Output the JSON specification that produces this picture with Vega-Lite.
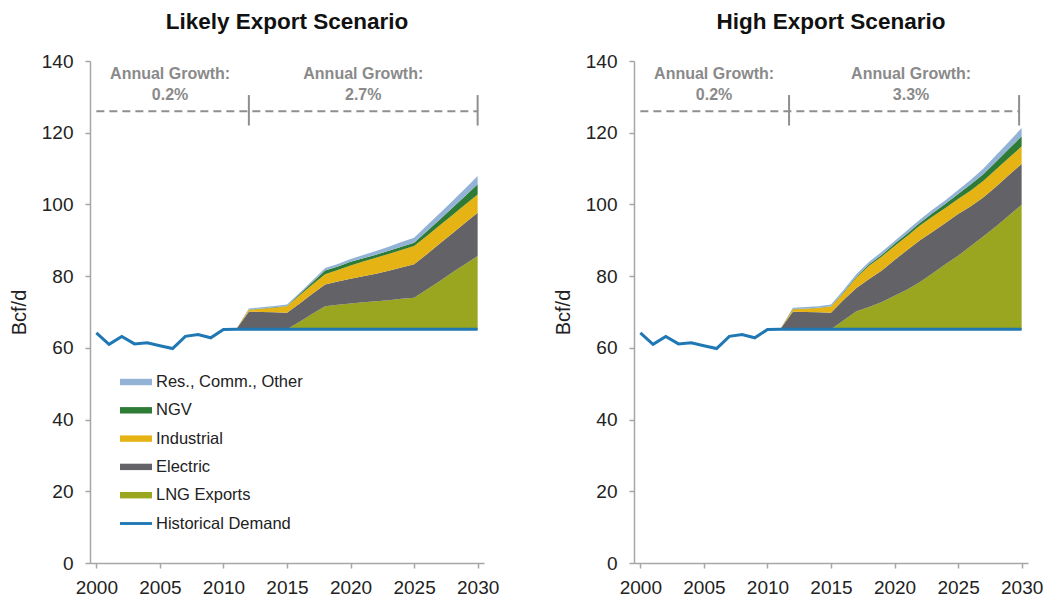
{
  "$schema": "https://vega.github.io/schema/vega-lite/v6.json",
  "background": "white",
  "padding": {"left": 9, "top": 10, "right": 5, "bottom": 0},
  "spacing": 54,
  "datasets": {
    "areas": [
      {"scenario": "Likely", "year": 2011, "base": 65.2, "lng": 0, "electric": 0, "industrial": 0, "ngv": 0, "res": 0},
      {"scenario": "Likely", "year": 2012, "base": 65.2, "lng": 0, "electric": 4.9, "industrial": 0.5, "ngv": 0.1, "res": 0.3},
      {"scenario": "Likely", "year": 2013, "base": 65.2, "lng": 0, "electric": 4.8, "industrial": 0.9, "ngv": 0.1, "res": 0.3},
      {"scenario": "Likely", "year": 2014, "base": 65.2, "lng": 0, "electric": 4.7, "industrial": 1.3, "ngv": 0.1, "res": 0.4},
      {"scenario": "Likely", "year": 2015, "base": 65.2, "lng": 0, "electric": 4.6, "industrial": 1.8, "ngv": 0.1, "res": 0.4},
      {"scenario": "Likely", "year": 2016, "base": 65.2, "lng": 2.1, "electric": 5.1, "industrial": 2.3, "ngv": 0.3, "res": 0.4},
      {"scenario": "Likely", "year": 2017, "base": 65.2, "lng": 4.3, "electric": 5.6, "industrial": 2.6, "ngv": 0.6, "res": 0.5},
      {"scenario": "Likely", "year": 2018, "base": 65.2, "lng": 6.4, "electric": 6.1, "industrial": 2.8, "ngv": 1.1, "res": 0.7},
      {"scenario": "Likely", "year": 2019, "base": 65.2, "lng": 6.8, "electric": 6.5, "industrial": 3.2, "ngv": 1.0, "res": 0.7},
      {"scenario": "Likely", "year": 2020, "base": 65.2, "lng": 7.2, "electric": 6.9, "industrial": 3.7, "ngv": 1.0, "res": 0.8},
      {"scenario": "Likely", "year": 2021, "base": 65.2, "lng": 7.5, "electric": 7.3, "industrial": 4.1, "ngv": 0.9, "res": 0.9},
      {"scenario": "Likely", "year": 2022, "base": 65.2, "lng": 7.8, "electric": 7.7, "industrial": 4.4, "ngv": 0.9, "res": 1.0},
      {"scenario": "Likely", "year": 2023, "base": 65.2, "lng": 8.1, "electric": 8.2, "industrial": 4.7, "ngv": 0.9, "res": 1.1},
      {"scenario": "Likely", "year": 2024, "base": 65.2, "lng": 8.5, "electric": 8.7, "industrial": 4.9, "ngv": 0.9, "res": 1.3},
      {"scenario": "Likely", "year": 2025, "base": 65.2, "lng": 8.8, "electric": 9.3, "industrial": 5.1, "ngv": 0.9, "res": 1.4},
      {"scenario": "Likely", "year": 2026, "base": 65.2, "lng": 11.1, "electric": 9.8, "industrial": 5.1, "ngv": 1.3, "res": 1.6},
      {"scenario": "Likely", "year": 2027, "base": 65.2, "lng": 13.4, "electric": 10.4, "industrial": 5.1, "ngv": 1.6, "res": 1.8},
      {"scenario": "Likely", "year": 2028, "base": 65.2, "lng": 15.8, "electric": 10.9, "industrial": 5.1, "ngv": 2.0, "res": 1.9},
      {"scenario": "Likely", "year": 2029, "base": 65.2, "lng": 18.1, "electric": 11.5, "industrial": 5.1, "ngv": 2.4, "res": 2.1},
      {"scenario": "Likely", "year": 2030, "base": 65.2, "lng": 20.4, "electric": 12.1, "industrial": 5.1, "ngv": 2.8, "res": 2.3},
      {"scenario": "High", "year": 2011, "base": 65.2, "lng": 0, "electric": 0, "industrial": 0, "ngv": 0, "res": 0},
      {"scenario": "High", "year": 2012, "base": 65.2, "lng": 0, "electric": 4.9, "industrial": 0.7, "ngv": 0.1, "res": 0.3},
      {"scenario": "High", "year": 2013, "base": 65.2, "lng": 0, "electric": 4.8, "industrial": 0.9, "ngv": 0.1, "res": 0.4},
      {"scenario": "High", "year": 2014, "base": 65.2, "lng": 0, "electric": 4.7, "industrial": 1.2, "ngv": 0.1, "res": 0.4},
      {"scenario": "High", "year": 2015, "base": 65.2, "lng": 0, "electric": 4.6, "industrial": 1.7, "ngv": 0.1, "res": 0.5},
      {"scenario": "High", "year": 2016, "base": 65.2, "lng": 2.5, "electric": 5.7, "industrial": 2.0, "ngv": 0.2, "res": 0.6},
      {"scenario": "High", "year": 2017, "base": 65.2, "lng": 5.0, "electric": 6.5, "industrial": 2.9, "ngv": 0.3, "res": 0.7},
      {"scenario": "High", "year": 2018, "base": 65.2, "lng": 6.2, "electric": 7.8, "industrial": 3.7, "ngv": 0.4, "res": 0.7},
      {"scenario": "High", "year": 2019, "base": 65.2, "lng": 7.6, "electric": 8.8, "industrial": 3.9, "ngv": 0.5, "res": 0.8},
      {"scenario": "High", "year": 2020, "base": 65.2, "lng": 9.3, "electric": 10.0, "industrial": 3.9, "ngv": 0.6, "res": 0.8},
      {"scenario": "High", "year": 2021, "base": 65.2, "lng": 11.1, "electric": 11.0, "industrial": 3.9, "ngv": 0.7, "res": 0.9},
      {"scenario": "High", "year": 2022, "base": 65.2, "lng": 13.2, "electric": 11.6, "industrial": 4.1, "ngv": 0.8, "res": 0.9},
      {"scenario": "High", "year": 2023, "base": 65.2, "lng": 15.6, "electric": 11.6, "industrial": 4.2, "ngv": 1.0, "res": 1.0},
      {"scenario": "High", "year": 2024, "base": 65.2, "lng": 18.1, "electric": 11.5, "industrial": 4.2, "ngv": 1.2, "res": 1.0},
      {"scenario": "High", "year": 2025, "base": 65.2, "lng": 20.5, "electric": 11.6, "industrial": 4.2, "ngv": 1.4, "res": 1.1},
      {"scenario": "High", "year": 2026, "base": 65.2, "lng": 23.2, "electric": 11.1, "industrial": 4.4, "ngv": 1.7, "res": 1.3},
      {"scenario": "High", "year": 2027, "base": 65.2, "lng": 25.9, "electric": 10.9, "industrial": 4.6, "ngv": 1.9, "res": 1.5},
      {"scenario": "High", "year": 2028, "base": 65.2, "lng": 28.7, "electric": 11.1, "industrial": 4.8, "ngv": 2.2, "res": 1.8},
      {"scenario": "High", "year": 2029, "base": 65.2, "lng": 31.7, "electric": 11.3, "industrial": 4.8, "ngv": 2.5, "res": 2.0},
      {"scenario": "High", "year": 2030, "base": 65.2, "lng": 34.7, "electric": 11.4, "industrial": 4.9, "ngv": 2.8, "res": 2.3}
    ],
    "hist": [
      {"year": 2000, "value": 64.2},
      {"year": 2001, "value": 61.0},
      {"year": 2002, "value": 63.2},
      {"year": 2003, "value": 61.1},
      {"year": 2004, "value": 61.4},
      {"year": 2005, "value": 60.6},
      {"year": 2006, "value": 59.8},
      {"year": 2007, "value": 63.2},
      {"year": 2008, "value": 63.7},
      {"year": 2009, "value": 62.8},
      {"year": 2010, "value": 65.1},
      {"year": 2011, "value": 65.2},
      {"year": 2030, "value": 65.2}
    ],
    "notes": [
      {"scenario": "Likely", "year": 2005.8, "label": "Annual Growth:\n0.2%"},
      {"scenario": "Likely", "year": 2021.0, "label": "Annual Growth:\n2.7%"},
      {"scenario": "High", "year": 2005.8, "label": "Annual Growth:\n0.2%"},
      {"scenario": "High", "year": 2021.3, "label": "Annual Growth:\n3.3%"}
    ],
    "ticks": [
      {"scenario": "Likely", "year": 2012.0, "lo": 122, "hi": 130.5},
      {"scenario": "Likely", "year": 2030.0, "lo": 122, "hi": 130.5},
      {"scenario": "High", "year": 2011.7, "lo": 122, "hi": 130.5},
      {"scenario": "High", "year": 2029.8, "lo": 122, "hi": 130.5}
    ],
    "dash": [
      {"scenario": "Likely", "start": 2000, "end": 2030, "level": 126.0},
      {"scenario": "High", "start": 2000, "end": 2029.8, "level": 126.0}
    ]
  },
  "hconcat": [
    {
      "title": {"text": "Likely Export Scenario"},
      "width": 394,
      "height": 502,
      "layer": [
        {
          "data": {"name": "areas"},
          "transform": [
            {"filter": "datum.scenario === 'Likely'"},
            {"fold": ["base", "lng", "electric", "industrial", "ngv", "res"], "as": ["series", "value"]},
            {"calculate": "indexof(['base','lng','electric','industrial','ngv','res'], datum.series)", "as": "ord"},
            {"stack": "value", "groupby": ["year"], "sort": [{"field": "ord", "order": "ascending"}], "as": ["v0", "v1"]},
            {"filter": "datum.series !== 'base'"}
          ],
          "mark": {"type": "area", "interpolate": "linear"},
          "encoding": {
            "x": {"field": "year", "type": "quantitative", "scale": {"domain": [1999.5, 2030.5], "nice": false, "zero": false},
                  "axis": {"values": [2000, 2005, 2010, 2015, 2020, 2025, 2030], "format": "d", "title": null}},
            "y": {"field": "v1", "type": "quantitative", "scale": {"domain": [0, 140], "nice": false},
                  "axis": {"values": [0, 20, 40, 60, 80, 100, 120, 140], "title": "Bcf/d"}},
            "y2": {"field": "v0"},
            "color": {"field": "series", "type": "nominal",
              "scale": {"domain": ["res", "ngv", "industrial", "electric", "lng", "hist"], "range": ["#93b3d6", "#2e7b36", "#e6b315", "#636266", "#9aa520", "#1f78b4"]},
              "legend": {
                "orient": "none", "legendX": 30, "legendY": 305, "title": null,
                "symbolType": "M-1,-0.2H1V0.2H-1Z", "symbolSize": 1024, "symbolStrokeWidth": 0,
                "labelFontSize": 16.5, "labelFont": "Liberation Sans", "labelColor": "#222222", "labelLimit": 300,
                "rowPadding": 3.3, "labelOffset": 4,
                "labelExpr": "{'res':'Res., Comm., Other','ngv':'NGV','industrial':'Industrial','electric':'Electric','lng':'LNG Exports','hist':'Historical Demand'}[datum.label]",
                "encode": {"symbols": {"update": {"shape": {"signal": "datum.value === 'hist' ? 'M-1,-0.09H1V0.09H-1Z' : 'M-1,-0.2H1V0.2H-1Z'"}}}}
              }
            }
          }
        },
        {
          "data": {"name": "hist"},
          "mark": {"type": "line", "strokeWidth": 3},
          "encoding": {
            "x": {"field": "year", "type": "quantitative"},
            "y": {"field": "value", "type": "quantitative"},
            "color": {"datum": "hist"}
          }
        },
        {
          "data": {"name": "dash"},
          "transform": [{"filter": "datum.scenario === 'Likely'"}],
          "mark": {"type": "rule", "color": "#8f8f8f", "strokeWidth": 2, "strokeDash": [8, 5]},
          "encoding": {
            "x": {"field": "start", "type": "quantitative"},
            "x2": {"field": "end"},
            "y": {"field": "level", "type": "quantitative"}
          }
        },
        {
          "data": {"name": "ticks"},
          "transform": [{"filter": "datum.scenario === 'Likely'"}],
          "mark": {"type": "rule", "color": "#8f8f8f", "strokeWidth": 2},
          "encoding": {
            "x": {"field": "year", "type": "quantitative"},
            "y": {"field": "lo", "type": "quantitative"},
            "y2": {"field": "hi"}
          }
        },
        {
          "data": {"name": "notes"},
          "transform": [{"filter": "datum.scenario === 'Likely'"}],
          "mark": {"type": "text", "lineBreak": "\n", "font": "Liberation Sans", "fontSize": 16, "fontWeight": "bold", "color": "#8a8a8a", "baseline": "alphabetic", "align": "center", "lineHeight": 21},
          "encoding": {
            "x": {"field": "year", "type": "quantitative"},
            "y": {"datum": 134.9, "type": "quantitative"},
            "text": {"field": "label"}
          }
        }
      ]
    },
    {
      "title": {"text": "High Export Scenario"},
      "width": 394,
      "height": 502,
      "layer": [
        {
          "data": {"name": "areas"},
          "transform": [
            {"filter": "datum.scenario === 'High'"},
            {"fold": ["base", "lng", "electric", "industrial", "ngv", "res"], "as": ["series", "value"]},
            {"calculate": "indexof(['base','lng','electric','industrial','ngv','res'], datum.series)", "as": "ord"},
            {"stack": "value", "groupby": ["year"], "sort": [{"field": "ord", "order": "ascending"}], "as": ["v0", "v1"]},
            {"filter": "datum.series !== 'base'"}
          ],
          "mark": {"type": "area", "interpolate": "linear"},
          "encoding": {
            "x": {"field": "year", "type": "quantitative", "scale": {"domain": [1999.5, 2030.5], "nice": false, "zero": false},
                  "axis": {"values": [2000, 2005, 2010, 2015, 2020, 2025, 2030], "format": "d", "title": null}},
            "y": {"field": "v1", "type": "quantitative", "scale": {"domain": [0, 140], "nice": false},
                  "axis": {"values": [0, 20, 40, 60, 80, 100, 120, 140], "title": "Bcf/d"}},
            "y2": {"field": "v0"},
            "color": {"field": "series", "type": "nominal",
              "scale": {"domain": ["res", "ngv", "industrial", "electric", "lng", "hist"], "range": ["#93b3d6", "#2e7b36", "#e6b315", "#636266", "#9aa520", "#1f78b4"]},
              "legend": null}
          }
        },
        {
          "data": {"name": "hist"},
          "mark": {"type": "line", "strokeWidth": 3},
          "encoding": {
            "x": {"field": "year", "type": "quantitative"},
            "y": {"field": "value", "type": "quantitative"},
            "color": {"datum": "hist", "legend": null}
          }
        },
        {
          "data": {"name": "dash"},
          "transform": [{"filter": "datum.scenario === 'High'"}],
          "mark": {"type": "rule", "color": "#8f8f8f", "strokeWidth": 2, "strokeDash": [8, 5]},
          "encoding": {
            "x": {"field": "start", "type": "quantitative"},
            "x2": {"field": "end"},
            "y": {"field": "level", "type": "quantitative"}
          }
        },
        {
          "data": {"name": "ticks"},
          "transform": [{"filter": "datum.scenario === 'High'"}],
          "mark": {"type": "rule", "color": "#8f8f8f", "strokeWidth": 2},
          "encoding": {
            "x": {"field": "year", "type": "quantitative"},
            "y": {"field": "lo", "type": "quantitative"},
            "y2": {"field": "hi"}
          }
        },
        {
          "data": {"name": "notes"},
          "transform": [{"filter": "datum.scenario === 'High'"}],
          "mark": {"type": "text", "lineBreak": "\n", "font": "Liberation Sans", "fontSize": 16, "fontWeight": "bold", "color": "#8a8a8a", "baseline": "alphabetic", "align": "center", "lineHeight": 21},
          "encoding": {
            "x": {"field": "year", "type": "quantitative"},
            "y": {"datum": 134.9, "type": "quantitative"},
            "text": {"field": "label"}
          }
        }
      ]
    }
  ],
  "resolve": {"scale": {"color": "independent"}},
  "config": {
    "view": {"stroke": null},
    "font": "Liberation Sans",
    "title": {"fontSize": 22.5, "fontWeight": "bold", "font": "Liberation Sans", "color": "#111111", "offset": 19, "anchor": "middle"},
    "axisX": {
      "grid": false,
      "labelFontSize": 19, "labelColor": "#222222", "labelFont": "Liberation Sans", "labelPadding": 10,
      "domainColor": "#a6a6a6", "tickColor": "#a6a6a6", "tickSize": 5, "domainWidth": 1.5, "tickWidth": 1.5, "labelFlush": false, "labelOverlap": false
    },
    "axisY": {
      "grid": false,
      "labelFontSize": 19, "labelColor": "#222222", "labelFont": "Liberation Sans", "labelPadding": 12,
      "titleFontSize": 20, "titleFontWeight": "normal", "titleColor": "#222222", "titleFont": "Liberation Sans", "titlePadding": 12,
      "domainColor": "#a6a6a6", "tickColor": "#a6a6a6", "tickSize": 5, "domainWidth": 1.5, "tickWidth": 1.5, "labelFlush": false
    }
  }
}
